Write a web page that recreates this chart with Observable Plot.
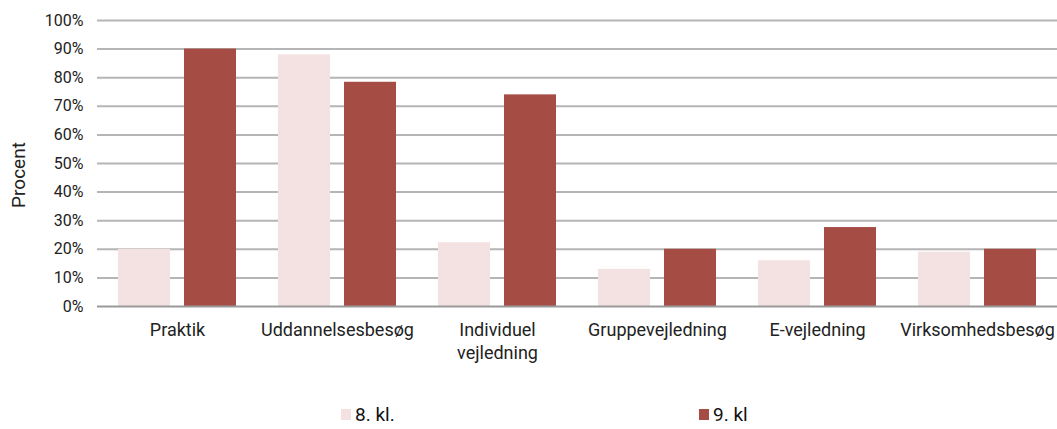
<!DOCTYPE html>
<html>
<head>
<meta charset="utf-8">
<script src="https://cdn.jsdelivr.net/npm/d3@7"></script>
<script src="https://cdn.jsdelivr.net/npm/@observablehq/plot@0.6"></script>
<style>
  html, body { margin: 0; padding: 0; background: #fff; }
  body { width: 1057px; height: 429px; overflow: hidden; font-family: Roboto, "Liberation Sans", sans-serif; position: relative; }
  #legend { position: relative; height: 39px; font-size: 19px; color: #111; }
  .item { position: absolute; top: 13px; display: flex; align-items: center; }
  .sw { width: 10px; height: 11px; margin-right: 4px; }
  #ylabel { position: absolute; left: 18px; top: 175px; transform: translate(-50%, -50%) rotate(-90deg); font-size: 19px; color: #222; white-space: nowrap; }
</style>
</head>
<body>
<div id="chart"></div>
<div id="legend"></div>
<div id="ylabel">Procent</div>
<script>
const categories = ["Praktik", "Uddannelsesbesøg", "Individuel\nvejledning", "Gruppevejledning", "E-vejledning", "Virksomhedsbesøg"];
const series = ["8. kl.", "9. kl"];
const values8 = [20, 88, 22.3, 13, 16, 19];
const values9 = [90, 78.4, 74, 20, 27.6, 20];
const colors = ["#f4e2e2", "#a54c45"];
const yTicks = [0, 10, 20, 30, 40, 50, 60, 70, 80, 90, 100];

const data = [];
categories.forEach((c, i) => {
  data.push({cat: c, s: series[0], v: values8[i]});
  data.push({cat: c, s: series[1], v: values9[i]});
});

const chart = Plot.plot({
  width: 1057,
  height: 390,
  marginLeft: 97,
  marginRight: 0,
  marginTop: 20,
  marginBottom: 84,
  style: {fontFamily: "Roboto, 'Liberation Sans', sans-serif", fontSize: "16px", color: "#222", background: "#fff"},
  fx: {domain: categories, padding: 0, label: null},
  x: {domain: series, paddingInner: 0.212, paddingOuter: 0.318, axis: null},
  y: {domain: [0, 100], ticks: yTicks, label: null},
  color: {domain: series, range: colors},
  marks: [
    Plot.gridY(yTicks.filter(d => d > 0), {stroke: "#b5b5b5", strokeOpacity: 1, strokeWidth: 2}),
    Plot.axisY(yTicks, {tickSize: 0, tickPadding: 14, tickFormat: d => d + "%", fontSize: 16, fill: "#222", label: null}),
    Plot.barY(data, {fx: "cat", x: "s", y: "v", fill: "s"}),
    Plot.ruleY([0], {stroke: "#999", strokeWidth: 2}),
    Plot.axisFx({anchor: "bottom", tickSize: 0, tickPadding: 14, fontSize: 18, fill: "#222", lineHeight: 1.25, label: null})
  ]
});
document.getElementById("chart").appendChild(chart);

const legend = document.getElementById("legend");
const lx = [341, 699];
series.forEach((s, i) => {
  const it = document.createElement("div");
  it.className = "item";
  it.style.left = lx[i] + "px";
  const sw = document.createElement("div");
  sw.className = "sw";
  sw.style.background = colors[i];
  it.appendChild(sw);
  const t = document.createElement("span");
  t.textContent = s;
  it.appendChild(t);
  legend.appendChild(it);
});
</script>
</body>
</html>
